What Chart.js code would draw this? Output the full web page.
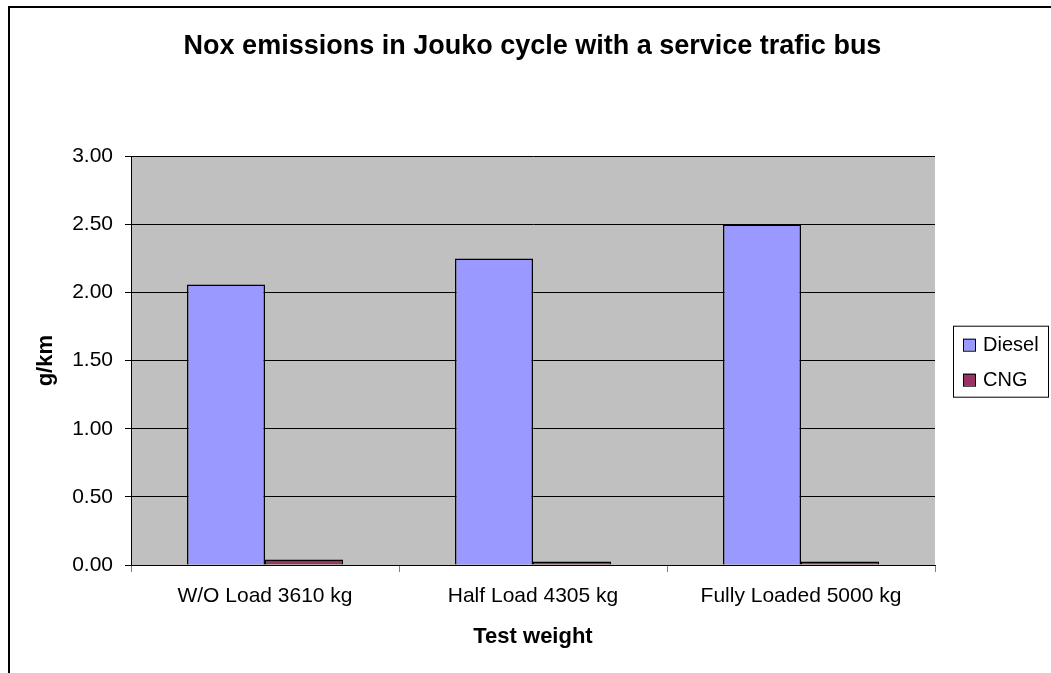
<!DOCTYPE html>
<html>
<head>
<meta charset="utf-8">
<title>Nox emissions</title>
<script src="https://cdn.jsdelivr.net/npm/chart.js@4.4.1/dist/chart.umd.min.js"></script>
<style>
  body { margin: 0; background: #fff; }
  canvas { display: block; }
</style>
</head>
<body>
<canvas id="myChart" width="1051" height="673"></canvas>
<script>

// DONNEES //

const categories = ['W/O Load 3610 kg', 'Half Load 4305 kg', 'Fully Loaded 5000 kg'];
const seriesNames = ['Diesel', 'CNG'];
const dieselValues = [2.06, 2.25, 2.50];
const cngValues = [0.04, 0.025, 0.025];
const seriesColors = ['#9999FF', '#993366'];
const yMin = 0;
const yMax = 3;
const yStep = 0.5;


// FOND GRIS + CADRE //

const plotBackground = {
  id: 'plotBackground',
  beforeDraw(chart) {
    const { ctx, chartArea } = chart;
    ctx.save();
    ctx.fillStyle = '#C0C0C0';
    ctx.fillRect(chartArea.left, chartArea.top, chartArea.right - chartArea.left, chartArea.bottom - chartArea.top);
    ctx.strokeStyle = '#000';
    ctx.lineWidth = 2;
    ctx.beginPath();
    ctx.moveTo(9, chart.height);
    ctx.lineTo(9, 7);
    ctx.lineTo(chart.width, 7);
    ctx.stroke();
    ctx.restore();
  }
};


// LEGENDE A DROITE //

const sideLegend = {
  id: 'sideLegend',
  start(chart) {
    const box = {
      position: 'right',
      weight: 1000,
      fullSize: false,
      options: {},
      left: 0, top: 0, right: 0, bottom: 0, width: 0, height: 0,
      isHorizontal() { return false; },
      update(maxWidth, maxHeight) {
        this.width = 116;
        this.height = maxHeight;
      },
      draw() {
        const ctx = chart.ctx;
        const area = chart.chartArea;
        const mid = (area.top + area.bottom) / 2;
        const x0 = this.left + 18;
        const y0 = mid - 35;
        ctx.save();
        ctx.fillStyle = '#fff';
        ctx.fillRect(x0, y0, 95, 71);
        ctx.strokeStyle = '#000';
        ctx.lineWidth = 1;
        ctx.strokeRect(x0 + 0.5, y0 + 0.5, 95, 71);
        ctx.font = '20px "Liberation Sans", Arial, sans-serif';
        ctx.textBaseline = 'middle';
        chart.data.datasets.forEach((ds, i) => {
          const cy = y0 + 19 + i * 35;
          ctx.fillStyle = ds.backgroundColor;
          ctx.fillRect(x0 + 10, cy - 6, 12, 12);
          ctx.strokeStyle = '#000';
          ctx.strokeRect(x0 + 10.5, cy - 5.5, 12, 12);
          ctx.fillStyle = '#000';
          ctx.fillText(ds.label, x0 + 30, cy + 1);
        });
        ctx.restore();
      }
    };
    Chart.layouts.addBox(chart, box);
  }
};


// GRAPHIQUE //

const ctx = document.getElementById('myChart');

new Chart(ctx, {
  type: 'bar',
  data: {
    labels: categories,
    datasets: [
      {
        label: seriesNames[0],
        data: dieselValues,
        backgroundColor: seriesColors[0],
        borderColor: '#000',
        borderWidth: 1.5,
        categoryPercentage: 0.582,
        barPercentage: 1
      },
      {
        label: seriesNames[1],
        data: cngValues,
        backgroundColor: seriesColors[1],
        borderColor: '#000',
        borderWidth: 1.5,
        categoryPercentage: 0.582,
        barPercentage: 1
      }
    ]
  },
  options: {
    responsive: false,
    animation: false,
    layout: {
      padding: { left: 14, right: 0, top: 0, bottom: 0 }
    },
    plugins: {
      legend: { display: false },
      tooltip: { enabled: false },
      title: {
        display: true,
        text: 'Nox emissions in Jouko cycle with a service trafic bus',
        color: '#000',
        font: { family: '"Liberation Sans", Arial, sans-serif', size: 27, weight: 'bold', lineHeight: 1.2 },
        padding: { top: 30, bottom: 94 }
      }
    },
    scales: {
      x: {
        grid: {
          offset: true,
          drawOnChartArea: false,
          drawTicks: true,
          tickLength: 7,
          color: '#808080'
        },
        border: { color: '#000', width: 1 },
        ticks: {
          color: '#000',
          padding: 12,
          maxRotation: 0,
          font: { family: '"Liberation Sans", Arial, sans-serif', size: 21 }
        },
        title: {
          display: true,
          text: 'Test weight',
          color: '#000',
          font: { family: '"Liberation Sans", Arial, sans-serif', size: 22, weight: 'bold' },
          padding: { top: 0, bottom: 23 }
        },
        afterFit(scale) { scale.height = 108; }
      },
      y: {
        min: yMin,
        max: yMax,
        grid: {
          color: '#000',
          lineWidth: 1,
          drawTicks: true,
          tickLength: 6
        },
        border: { color: '#000', width: 1 },
        ticks: {
          stepSize: yStep,
          color: '#000',
          padding: 12,
          font: { family: '"Liberation Sans", Arial, sans-serif', size: 21 },
          callback: (v) => Number(v).toFixed(2)
        },
        title: {
          display: true,
          text: 'g/km',
          color: '#000',
          font: { family: '"Liberation Sans", Arial, sans-serif', size: 22, weight: 'bold' },
          padding: { top: 19, bottom: 0 }
        },
        afterFit(scale) { scale.width = 117; }
      }
    }
  },
  plugins: [plotBackground, sideLegend]
});

</script>
</body>
</html>
